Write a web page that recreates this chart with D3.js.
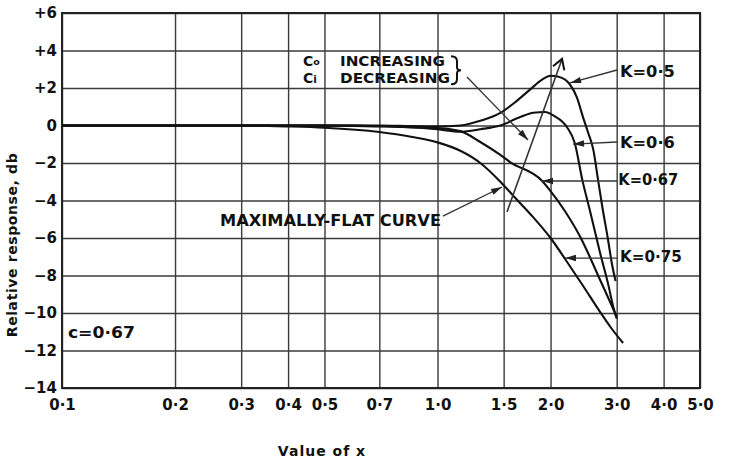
<!DOCTYPE html>
<html>
<head>
<meta charset="utf-8">
<script src="https://cdn.jsdelivr.net/npm/d3@7"></script>
<style>
  html, body { margin: 0; padding: 0; background: #fff; }
  text { font-family: "DejaVu Sans", sans-serif; fill: #111; }
</style>
</head>
<body>
<script>
// ---------- DATA ----------
const xTicks = [0.1, 0.2, 0.3, 0.4, 0.5, 0.7, 1.0, 1.5, 2.0, 3.0, 4.0, 5.0];
const xTickLabels = ["0·1", "0·2", "0·3", "0·4", "0·5", "0·7", "1·0", "1·5", "2·0", "3·0", "4·0", "5·0"];
const yTicks = [6, 4, 2, 0, -2, -4, -6, -8, -10, -12, -14];
const yTickLabels = ["+6", "+4", "+2", "0", "−2", "−4", "−6", "−8", "−10", "−12", "−14"];

const seriesNames = ["K=0·5", "K=0·6", "K=0·67", "K=0·75"];

const xK05  = [0.1, 0.3, 0.5, 0.7, 0.85, 1.0, 1.15, 1.3, 1.47, 1.6, 1.76, 1.9, 2.0, 2.1, 2.25, 2.35, 2.44, 2.52, 2.6, 2.676, 2.75, 2.84, 2.915, 2.98];
const dbK05 = [0,   0,   0,   0,  -0.03, -0.05, 0.0, 0.25, 0.67, 1.2, 1.9, 2.45, 2.65, 2.6, 2.2, 1.5, 0.45, -0.4, -1.3, -2.9, -4.4, -6.0, -7.4, -8.3];

const xK06  = [0.1, 0.3, 0.5, 0.6, 0.8, 1.0, 1.15, 1.3, 1.47, 1.66, 1.8, 1.93, 2.05, 2.21, 2.32, 2.43, 2.55, 2.71, 2.85, 2.94, 3.0];
const dbK06 = [0,   0,   0,   0,  -0.08, -0.2, -0.33, -0.2, 0.0, 0.45, 0.68, 0.72, 0.5, -0.08, -0.93, -2.9, -4.6, -6.8, -8.5, -9.7, -10.3];

const xK067  = [0.1, 0.3, 0.5, 0.7, 0.9, 1.0, 1.15, 1.3, 1.47, 1.56, 1.9, 2.0, 2.19, 2.4, 2.55, 2.71, 2.85, 3.0];
const dbK067 = [0,   0,   0,  -0.05, -0.1, -0.13, -0.3, -0.88, -1.57, -1.95, -2.96, -3.5, -4.6, -5.95, -7.05, -8.24, -9.2, -10.2];

const xK075  = [0.1, 0.3, 0.4, 0.5, 0.7, 0.85, 1.0, 1.15, 1.3, 1.47, 1.6, 1.8, 2.0, 2.2, 2.45, 2.7, 2.9, 3.12];
const dbK075 = [0,   0,  -0.05, -0.12, -0.35, -0.6, -0.9, -1.35, -2.0, -3.0, -3.8, -4.9, -6.0, -7.2, -8.6, -9.9, -10.8, -11.6];

// ---------- LAYOUT ----------
const W = 729, H = 460;
const mLeft = 62, mRight = 700, mTop = 13, mBottom = 388;

const svg = d3.select("body").append("svg").attr("width", W).attr("height", H);

const x = d3.scaleLog().domain([0.1, 5]).range([mLeft, mRight]);
const y = d3.scaleLinear().domain([-14, 6]).range([mBottom, mTop]);

const gridColor = "#3a3a3a";

// vertical grid + x labels
const gx = svg.append("g")
  .attr("transform", `translate(0,${mBottom})`)
  .call(d3.axisBottom(x).tickValues(xTicks)
    .tickFormat((d, i) => xTickLabels[i])
    .tickSize(-(mBottom - mTop)).tickPadding(11));
gx.select(".domain").remove();
gx.selectAll("line").attr("stroke", gridColor).attr("stroke-width", 1.4);
gx.selectAll("text").attr("font-size", 15).attr("font-weight", "bold").attr("fill", "#111")
  .style("font-family", "'DejaVu Sans', sans-serif");

// horizontal grid + y labels
const gy = svg.append("g")
  .attr("transform", `translate(${mLeft},0)`)
  .call(d3.axisLeft(y).tickValues(yTicks)
    .tickFormat((d, i) => yTickLabels[i])
    .tickSize(-(mRight - mLeft)).tickPadding(5));
gy.select(".domain").remove();
gy.selectAll("line").attr("stroke", gridColor).attr("stroke-width", 1.4);
gy.selectAll("text").attr("font-size", 15).attr("font-weight", "bold").attr("fill", "#111")
  .style("font-family", "'DejaVu Sans', sans-serif");

// frame
svg.append("rect").attr("x", mLeft).attr("y", mTop)
  .attr("width", mRight - mLeft).attr("height", mBottom - mTop)
  .attr("fill", "none").attr("stroke", "#222").attr("stroke-width", 2);

// axis titles
svg.append("text").attr("x", 322).attr("y", 456).attr("text-anchor", "middle")
  .attr("font-size", 14).attr("font-weight", "bold").attr("letter-spacing", 1)
  .text("Value of x");
svg.append("text")
  .attr("transform", `translate(17,${245}) rotate(-90)`)
  .attr("text-anchor", "middle").attr("font-size", 14).attr("font-weight", "bold")
  .attr("letter-spacing", 0.6)
  .text("Relative response, db");

// ---------- CURVES ----------
const line = d3.line().x(d => x(d[0])).y(d => y(d[1])).curve(d3.curveMonotoneX);
const series = [
  [xK05, dbK05], [xK06, dbK06], [xK067, dbK067], [xK075, dbK075]
];
svg.append("g").selectAll("path").data(series).join("path")
  .attr("d", s => line(s[0].map((v, i) => [v, s[1][i]])))
  .attr("fill", "none").attr("stroke", "#111").attr("stroke-width", 2.1)
  .attr("stroke-linejoin", "round");

// ---------- ANNOTATIONS ----------
const defs = svg.append("defs");
defs.append("marker").attr("id", "ah").attr("viewBox", "-12 -5 14 10")
  .attr("refX", 0).attr("refY", 0).attr("markerWidth", 14).attr("markerHeight", 10)
  .attr("markerUnits", "userSpaceOnUse").attr("orient", "auto")
  .append("path").attr("d", "M-11,-3.2 L0,0 L-11,3.2 Z").attr("fill", "#222");
defs.append("marker").attr("id", "open").attr("viewBox", "-12 -7 14 14")
  .attr("refX", 0).attr("refY", 0).attr("markerWidth", 14).attr("markerHeight", 14)
  .attr("markerUnits", "userSpaceOnUse").attr("orient", "auto")
  .append("path").attr("d", "M-10,-6 L0,0 L-10,6").attr("fill", "none")
  .attr("stroke", "#111").attr("stroke-width", 2);

function arrow(x1, d1, x2, d2, marker, w) {
  svg.append("line")
    .attr("x1", x(x1)).attr("y1", y(d1)).attr("x2", x(x2)).attr("y2", y(d2))
    .attr("stroke", "#333").attr("stroke-width", w || 1.3)
    .attr("marker-end", `url(#${marker || "ah"})`);
}
function label(xv, dv, txt, len, size) {
  const t = svg.append("text").attr("x", x(xv)).attr("y", y(dv))
    .attr("font-size", size || 14).attr("font-weight", "bold").text(txt);
  if (len) t.attr("textLength", len).attr("lengthAdjust", "spacingAndGlyphs");
  return t;
}

// K labels with arrows to the curves
const kLabelX = [3.06, 3.06, 3.03, 3.06];
const kLabelDb = [2.59, -1.2, -3.17, -7.28];
const kLabelLen = [55, 55, 60, 62];
const kArrowFromDb = [2.96, -0.88, -2.96, -7.07];
const kArrowToX = [2.254, 2.296, 1.898, 2.185];
const kArrowToDb = [2.27, -0.99, -2.96, -7.07];
seriesNames.forEach((n, i) => {
  arrow(3.006, kArrowFromDb[i], kArrowToX[i], kArrowToDb[i]);
  label(kLabelX[i], kLabelDb[i], n, kLabelLen[i], 15);
});

// c = 0.67
label(0.1037, -11.33, "c=0·67", 67, 15);

// maximally flat
label(0.2635, -5.36, "MAXIMALLY-FLAT CURVE", 221, 15);
arrow(1.034, -4.83, 1.485, -3.28);

// Co increasing / Ci decreasing
const cg = svg.append("g");
const cx0 = x(0.438);
const line1Db = 3.17, line2Db = 2.27;
const ct1 = cg.append("text").attr("x", cx0).attr("y", y(line1Db))
  .attr("font-size", 14).attr("font-weight", "bold");
ct1.append("tspan").text("C");
ct1.append("tspan").attr("font-size", 9.5).attr("dy", -1).text("o");
ct1.append("tspan").attr("x", 340).attr("dy", 1).text("INCREASING")
  .attr("textLength", 105).attr("lengthAdjust", "spacingAndGlyphs");
const ct2 = cg.append("text").attr("x", cx0).attr("y", y(line2Db))
  .attr("font-size", 14).attr("font-weight", "bold");
ct2.append("tspan").text("C");
ct2.append("tspan").attr("font-size", 10.5).text("i");
ct2.append("tspan").attr("x", 340).text("DECREASING")
  .attr("textLength", 110).attr("lengthAdjust", "spacingAndGlyphs");
// brace
const bx = 451, by0 = y(3.7), by1 = y(2.2);
const bm = (by0 + by1) / 2;
cg.append("path")
  .attr("d", `M${bx},${by0} Q${bx + 6},${by0} ${bx + 6},${by0 + 5} L${bx + 6},${bm - 3} Q${bx + 6},${bm} ${bx + 10},${bm} Q${bx + 6},${bm} ${bx + 6},${bm + 3} L${bx + 6},${by1 - 5} Q${bx + 6},${by1} ${bx},${by1}`)
  .attr("fill", "none").attr("stroke", "#111").attr("stroke-width", 2);
arrow(1.198, 2.59, 1.742, -0.77);
// open arrow across curves
arrow(1.531, -4.61, 2.146, 3.55, "open", 1.6);
</script>
</body>
</html>
